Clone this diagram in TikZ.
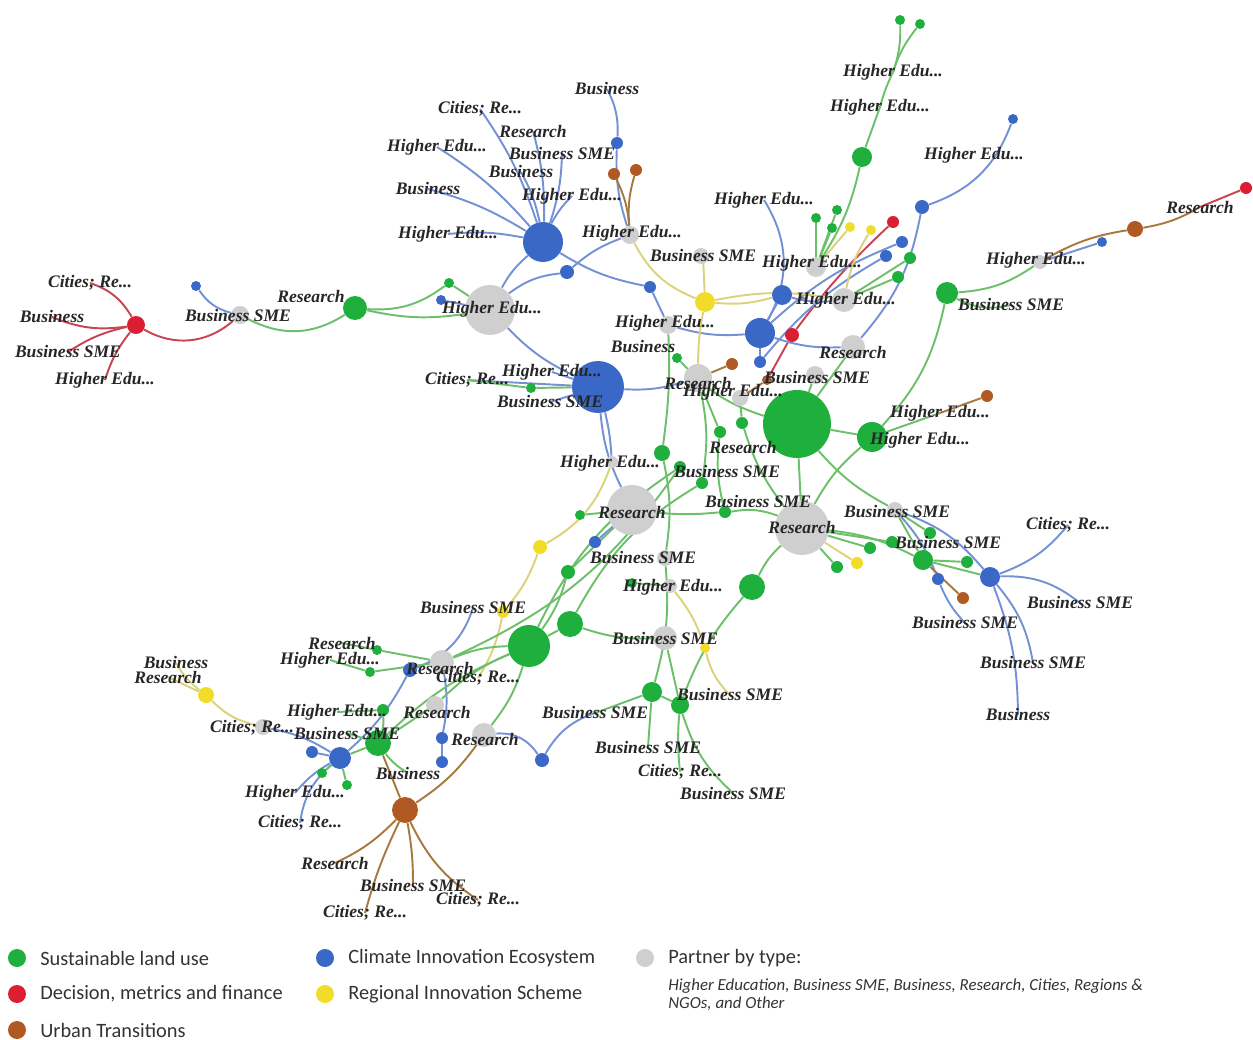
\documentclass[tikz,border=0pt]{standalone}
\usepackage{fontspec}
\setmainfont{Liberation Serif}
\newfontfamily\legfont{Carlito}
\usepackage{xcolor}
\usetikzlibrary{backgrounds}

\definecolor{cgreen}{HTML}{1EAF3C}
\definecolor{cblue}{HTML}{3A68C6}
\definecolor{cgrey}{HTML}{CFCFCF}
\definecolor{cred}{HTML}{DC1E32}
\definecolor{cyel}{HTML}{F2DC2A}
\definecolor{cbrown}{HTML}{B05A23}
\definecolor{egreen}{HTML}{6CC06A}
\definecolor{eblue}{HTML}{7591D6}
\definecolor{ered}{HTML}{C84450}
\definecolor{eyel}{HTML}{DCD27A}
\definecolor{ebrown}{HTML}{A8793F}

\begin{document}
\begin{tikzpicture}[
  x=0.02cm, y=-0.02cm,
  dot/.style 2 args={circle, fill=#1, inner sep=0pt, minimum size=#2*0.04cm},
  lbl/.style={font=\bfseries\itshape\fontsize{10}{11}\selectfont, text=black!85, inner sep=0pt},
  leg/.style={font=\legfont\fontsize{11.6}{13}\selectfont, text=black!80, anchor=west, inner sep=0pt},
  eg/.style={draw=egreen, line width=1.1pt},
  eb/.style={draw=eblue, line width=1.1pt},
  er/.style={draw=ered, line width=1.1pt},
  ey/.style={draw=eyel, line width=1.1pt},
  en/.style={draw=ebrown, line width=1.1pt},
]
\useasboundingbox (0,0) rectangle (1253,1040);

% hubs and partners
\node[dot={cred}{9}] (red1) at (136,325) {};
\node[dot={cblue}{5}] (blue1) at (196,286) {};
\node[dot={cgrey}{9}] (pg1) at (240,315) {};
\node[dot={cgreen}{12}] (green1) at (355,308) {};
\node[dot={cgreen}{5}] (green2) at (449,283) {};
\node[dot={cblue}{5}] (blue2) at (441,300) {};
\node[dot={cgrey}{25}] (pg2) at (490,310) {};
\node[dot={cblue}{20}] (blue3) at (543,242) {};
\node[dot={cblue}{7}] (blue4) at (567,272) {};
\node[dot={cblue}{6}] (blue5) at (617,143) {};
\node[dot={cbrown}{6}] (brown1) at (614,174) {};
\node[dot={cbrown}{6}] (brown2) at (636,170) {};
\node[dot={cgrey}{9}] (pg3) at (630,235) {};
\node[dot={cblue}{6}] (blue6) at (650,287) {};
\node[dot={cyel}{10}] (yel1) at (705,302) {};
\node[dot={cgrey}{8}] (pg5) at (701,256) {};
\node[dot={cgrey}{9}] (pg4) at (668,325) {};
\node[dot={cblue}{10}] (blue7) at (782,295) {};
\node[dot={cblue}{15}] (blue8) at (760,333) {};
\node[dot={cgrey}{10}] (pg6) at (816,267) {};
\node[dot={cgrey}{12}] (pg7) at (844,300) {};
\node[dot={cgreen}{5}] (green3) at (816,218) {};
\node[dot={cgreen}{5}] (green4) at (837,210) {};
\node[dot={cgreen}{5}] (green5) at (832,228) {};
\node[dot={cyel}{5}] (yel2) at (850,227) {};
\node[dot={cyel}{5}] (yel3) at (871,230) {};
\node[dot={cred}{6}] (red2) at (893,222) {};
\node[dot={cblue}{6}] (blue9) at (902,242) {};
\node[dot={cblue}{6}] (blue10) at (886,256) {};
\node[dot={cgreen}{6}] (green6) at (910,258) {};
\node[dot={cgreen}{6}] (green7) at (898,277) {};
\node[dot={cgreen}{10}] (green8) at (862,157) {};
\node[dot={cgreen}{5}] (green9) at (900,20) {};
\node[dot={cgreen}{5}] (green10) at (920,24) {};
\node[dot={cblue}{7}] (blue11) at (922,207) {};
\node[dot={cblue}{5}] (blue12) at (1013,119) {};
\node[dot={cgreen}{11}] (green11) at (947,293) {};
\node[dot={cgrey}{7}] (pg8) at (1040,262) {};
\node[dot={cblue}{5}] (blue13) at (1102,242) {};
\node[dot={cbrown}{8}] (brown3) at (1135,229) {};
\node[dot={cred}{6}] (red3) at (1246,188) {};
\node[dot={cred}{7}] (red4) at (792,335) {};
\node[dot={cblue}{26}] (blue14) at (598,387) {};
\node[dot={cgreen}{5}] (green12) at (531,388) {};
\node[dot={cgreen}{5}] (green13) at (677,358) {};
\node[dot={cbrown}{6}] (brown4) at (732,364) {};
\node[dot={cblue}{6}] (blue15) at (760,362) {};
\node[dot={cgrey}{14}] (pg9) at (698,378) {};
\node[dot={cgrey}{8}] (pg10) at (740,398) {};
\node[dot={cbrown}{5}] (brown5) at (767,380) {};
\node[dot={cgrey}{9}] (pg11) at (815,375) {};
\node[dot={cgrey}{12}] (pg12) at (853,347) {};
\node[dot={cgreen}{34}] (green14) at (797,424) {};
\node[dot={cgreen}{15}] (green15) at (872,437) {};
\node[dot={cbrown}{6}] (brown6) at (987,396) {};
\node[dot={cgreen}{6}] (green16) at (720,432) {};
\node[dot={cgreen}{6}] (green17) at (742,423) {};
\node[dot={cgreen}{8}] (green18) at (662,453) {};
\node[dot={cgrey}{6}] (pg13) at (612,462) {};
\node[dot={cgreen}{6}] (green19) at (702,483) {};
\node[dot={cgreen}{6}] (green20) at (680,467) {};
\node[dot={cgrey}{25}] (pg14) at (632,510) {};
\node[dot={cgreen}{5}] (green21) at (580,515) {};
\node[dot={cblue}{6}] (blue16) at (595,542) {};
\node[dot={cgreen}{6}] (green22) at (725,512) {};
\node[dot={cgrey}{27}] (pg15) at (802,528) {};
\node[dot={cgrey}{8}] (pg16) at (895,510) {};
\node[dot={cgreen}{6}] (green23) at (930,533) {};
\node[dot={cgreen}{6}] (green24) at (892,542) {};
\node[dot={cgreen}{6}] (green25) at (870,548) {};
\node[dot={cgreen}{6}] (green26) at (837,567) {};
\node[dot={cyel}{6}] (yel8) at (857,563) {};
\node[dot={cgreen}{10}] (green27) at (923,560) {};
\node[dot={cgreen}{6}] (green28) at (967,562) {};
\node[dot={cblue}{6}] (blue17) at (938,579) {};
\node[dot={cbrown}{6}] (brown7) at (963,598) {};
\node[dot={cblue}{10}] (blue18) at (990,577) {};
\node[dot={cyel}{7}] (yel4) at (540,547) {};
\node[dot={cgreen}{7}] (green29) at (568,572) {};
\node[dot={cgrey}{8}] (pg17) at (665,558) {};
\node[dot={cgreen}{5}] (green30) at (632,583) {};
\node[dot={cgrey}{7}] (pg23) at (670,586) {};
\node[dot={cgreen}{13}] (green31) at (752,587) {};
\node[dot={cyel}{6}] (yel5) at (503,612) {};
\node[dot={cgreen}{21}] (green32) at (529,646) {};
\node[dot={cgreen}{13}] (green33) at (570,624) {};
\node[dot={cgrey}{12}] (pg18) at (665,638) {};
\node[dot={cyel}{5}] (yel6) at (705,648) {};
\node[dot={cgreen}{10}] (green34) at (652,692) {};
\node[dot={cgreen}{9}] (green35) at (680,705) {};
\node[dot={cblue}{7}] (blue19) at (542,760) {};
\node[dot={cgrey}{12}] (pg19) at (484,735) {};
\node[dot={cblue}{6}] (blue20) at (442,738) {};
\node[dot={cblue}{6}] (blue21) at (442,762) {};
\node[dot={cgreen}{5}] (green36) at (377,650) {};
\node[dot={cgreen}{5}] (green37) at (370,672) {};
\node[dot={cblue}{7}] (blue22) at (410,670) {};
\node[dot={cgrey}{12}] (pg20) at (442,662) {};
\node[dot={cyel}{8}] (yel7) at (206,695) {};
\node[dot={cgrey}{8}] (pg21) at (263,727) {};
\node[dot={cblue}{11}] (blue23) at (340,758) {};
\node[dot={cblue}{6}] (blue24) at (312,752) {};
\node[dot={cgreen}{13}] (green38) at (378,743) {};
\node[dot={cgreen}{6}] (green39) at (383,710) {};
\node[dot={cgrey}{9}] (pg22) at (435,705) {};
\node[dot={cgreen}{5}] (green40) at (322,773) {};
\node[dot={cgreen}{5}] (green41) at (347,785) {};
\node[dot={cbrown}{13}] (brown8) at (405,810) {};

% partner labels
\node[lbl] (cit1) at (90,283) {Cities; Re...};
\node[lbl] (bus1) at (52,317) {Business};
\node[lbl] (sme1) at (68,352) {Business SME};
\node[lbl] (he1) at (105,380) {Higher Edu...};
\node[lbl] (sme2) at (238,316) {Business SME};
\node[lbl] (res1) at (311,296) {Research};
\node[lbl] (he2) at (492,309) {Higher Edu...};
\node[lbl] (cit2) at (480,109) {Cities; Re...};
\node[lbl] (res2) at (533,131) {Research};
\node[lbl] (he3) at (437,147) {Higher Edu...};
\node[lbl] (sme3) at (562,154) {Business SME};
\node[lbl] (bus2) at (521,172) {Business};
\node[lbl] (bus3) at (428,189) {Business};
\node[lbl] (he4) at (572,196) {Higher Edu...};
\node[lbl] (he5) at (448,234) {Higher Edu...};
\node[lbl] (bus4) at (607,89) {Business};
\node[lbl] (he6) at (632,233) {Higher Edu...};
\node[lbl] (sme4) at (703,256) {Business SME};
\node[lbl] (he7) at (665,323) {Higher Edu...};
\node[lbl] (bus5) at (643,347) {Business};
\node[lbl] (he8) at (764,200) {Higher Edu...};
\node[lbl] (he9) at (812,263) {Higher Edu...};
\node[lbl] (he10) at (846,300) {Higher Edu...};
\node[lbl] (he11) at (893,72) {Higher Edu...};
\node[lbl] (he12) at (880,107) {Higher Edu...};
\node[lbl] (he13) at (974,155) {Higher Edu...};
\node[lbl] (sme5) at (1011,305) {Business SME};
\node[lbl] (he14) at (1036,260) {Higher Edu...};
\node[lbl] (res3) at (1200,207) {Research};
\node[lbl] (cit3) at (467,380) {Cities; Re...};
\node[lbl] (he15) at (552,372) {Higher Edu...};
\node[lbl] (sme6) at (550,402) {Business SME};
\node[lbl] (res4) at (853,352) {Research};
\node[lbl] (sme7) at (817,378) {Business SME};
\node[lbl] (res5) at (698,383) {Research};
\node[lbl] (he16) at (733,392) {Higher Edu...};
\node[lbl] (he17) at (940,413) {Higher Edu...};
\node[lbl] (he18) at (920,440) {Higher Edu...};
\node[lbl] (res6) at (743,447) {Research};
\node[lbl] (he19) at (610,463) {Higher Edu...};
\node[lbl] (sme8) at (727,472) {Business SME};
\node[lbl] (res7) at (632,512) {Research};
\node[lbl] (sme9) at (758,502) {Business SME};
\node[lbl] (res8) at (802,527) {Research};
\node[lbl] (sme10) at (897,512) {Business SME};
\node[lbl] (sme11) at (948,543) {Business SME};
\node[lbl] (cit4) at (1068,525) {Cities; Re...};
\node[lbl] (sme12) at (1080,603) {Business SME};
\node[lbl] (sme13) at (965,623) {Business SME};
\node[lbl] (sme14) at (1033,663) {Business SME};
\node[lbl] (bus6) at (1018,715) {Business};
\node[lbl] (sme15) at (643,558) {Business SME};
\node[lbl] (he20) at (673,587) {Higher Edu...};
\node[lbl] (sme16) at (473,608) {Business SME};
\node[lbl] (sme17) at (665,639) {Business SME};
\node[lbl] (sme18) at (730,695) {Business SME};
\node[lbl] (sme19) at (595,713) {Business SME};
\node[lbl] (sme20) at (648,747) {Business SME};
\node[lbl] (cit5) at (680,772) {Cities; Re...};
\node[lbl] (sme21) at (733,793) {Business SME};
\node[lbl] (res9) at (485,739) {Research};
\node[lbl] (res10) at (342,643) {Research};
\node[lbl] (he21) at (330,660) {Higher Edu...};
\node[lbl] (res11) at (440,668) {Research};
\node[lbl] (cit6) at (478,678) {Cities; Re...};
\node[lbl] (bus7) at (176,663) {Business};
\node[lbl] (res12) at (168,677) {Research};
\node[lbl] (cit7) at (252,728) {Cities; Re...};
\node[lbl] (he22) at (337,712) {Higher Edu...};
\node[lbl] (res13) at (437,712) {Research};
\node[lbl] (sme22) at (347,733) {Business SME};
\node[lbl] (bus8) at (408,773) {Business};
\node[lbl] (he23) at (295,793) {Higher Edu...};
\node[lbl] (cit8) at (300,823) {Cities; Re...};
\node[lbl] (res14) at (335,863) {Research};
\node[lbl] (sme23) at (413,885) {Business SME};
\node[lbl] (cit9) at (365,913) {Cities; Re...};
\node[lbl] (cit10) at (478,900) {Cities; Re...};

\begin{scope}[on background layer]
% red
\draw[er] (red1) to[bend right=20] (cit1.center);
\draw[er] (red1) to[bend left=15] (bus1.center);
\draw[er] (red1) to[bend right=10] (sme1.center);
\draw[er] (red1) to[bend right=10] (he1.center);
\draw[er] (red1) to[bend right=35] (pg1);
\draw[er] (red2) to[bend right=5] (red4);
\draw[er] (red4) -- (brown5);
\draw[er] (res3.center) -- (red3);
% blue
\draw[eb] (blue1) to[bend right=20] (pg1);
\draw[eb] (blue2) -- (pg2);
\foreach \t in {cit2,res2,he3,sme3,bus2,bus3,he5}
  \draw[eb] (blue3) to[bend right=8] (\t.center);
\draw[eb] (blue3) to[bend left=8] (he4.center);
\draw[eb] (blue3) to[bend right=10] (pg2);
\draw[eb] (pg2) to[bend left=15] (blue4);
\draw[eb] (blue4) to[bend left=10] (pg3);
\draw[eb] (blue3) to[bend right=10] (blue6);
\draw[eb] (blue6) -- (pg4);
\draw[eb] (bus4.center) to[bend left=15] (blue5);
\draw[eb] (blue5) to[bend right=10] (pg3);
\draw[eb] (he8.center) to[bend left=30] (blue8);
\draw[eb] (blue8) -- (blue7);
\draw[eb] (pg4) to[bend right=10] (blue8);
\draw[eb] (blue7) to[bend right=10] (pg7);
\draw[eb] (blue11) to[bend right=25] (blue12);
\draw[eb] (blue11) to[bend left=15] (pg12);
\draw[eb] (blue9) to[bend right=10] (blue8);
\draw[eb] (blue10) to[bend right=10] (blue15);
\draw[eb] (blue8) to[bend right=10] (pg12);
\draw[eb] (blue15) -- (blue8);
\draw[eb] (blue14) -- (cit3.center);
\draw[eb] (blue14) -- (he15.center);
\draw[eb] (blue14) -- (sme6.center);
\draw[eb] (pg2) to[bend right=10] (blue14);
\draw[eb] (blue14) to[bend right=10] (pg9);
\draw[eb] (blue14) to[bend left=5] (pg13);
\draw[eb] (blue14) to[bend right=10] (pg14);
\draw[eb] (blue16) -- (pg14);
\draw[eb] (pg8) -- (blue13);
\draw[eb] (blue18) to[bend right=15] (cit4.center);
\draw[eb] (blue18) to[bend left=20] (sme12.center);
\draw[eb] (blue18) to[bend left=15] (sme14.center);
\draw[eb] (blue18) to[bend left=10] (bus6.center);
\draw[eb] (pg16) to[bend left=15] (blue18);
\draw[eb] (pg16) to[bend left=10] (blue17);
\draw[eb] (blue17) to[bend right=10] (sme13.center);
\draw[eb] (sme16.center) to[bend left=25] (blue22);
\draw[eb] (blue22) to[bend left=10] (blue23);
\draw[eb] (blue23) -- (blue24);
\draw[eb] (pg21) to[bend left=10] (blue23);
\draw[eb] (blue23) to[bend right=10] (he23.center);
\draw[eb] (blue23) to[bend right=20] (cit8.center);
\draw[eb] (pg20) to[bend left=10] (blue20);
\draw[eb] (blue20) -- (blue21);
\draw[eb] (pg19) to[bend left=30] (blue19);
\draw[eb] (blue19) to[bend left=20] (sme19.center);
% yellow
\draw[ey] (pg3) to[bend right=20] (yel1);
\draw[ey] (sme4.center) -- (yel1);
\draw[ey] (yel1) to[bend right=10] (blue7);
\draw[ey] (yel1) to[bend left=10] (pg7);
\draw[ey] (yel1) to[bend right=5] (pg9);
\draw[ey] (yel2) -- (pg6);
\draw[ey] (yel3) to[bend right=10] (pg7);
\draw[ey] (pg13) to[bend left=20] (yel4);
\draw[ey] (yel4) to[bend left=10] (yel5);
\draw[ey] (yel5) to[bend left=10] (cit6.center);
\draw[ey] (pg15) -- (yel8);
\draw[ey] (pg23) to[bend left=10] (yel6);
\draw[ey] (yel6) to[bend right=15] (sme18.center);
\draw[ey] (yel7) to[bend left=10] (bus7.center);
\draw[ey] (yel7) -- (res12.center);
\draw[ey] (yel7) to[bend right=15] (pg21);
% brown
\draw[en] (brown1) to[bend left=10] (pg3);
\draw[en] (brown2) to[bend right=10] (pg3);
\draw[en] (pg8) to[bend left=10] (brown3);
\draw[en] (brown3) to[bend right=10] (res3.center);
\draw[en] (he17.center) -- (brown6);
\draw[en] (brown4) -- (pg9);
\draw[en] (brown5) -- (pg10);
\draw[en] (brown7) -- (green27);
\draw[en] (brown8) to[bend left=10] (res14.center);
\draw[en] (brown8) to[bend left=5] (sme23.center);
\draw[en] (brown8) to[bend right=5] (cit9.center);
\draw[en] (brown8) to[bend right=15] (cit10.center);
\draw[en] (brown8) -- (green38);
\draw[en] (brown8) to[bend right=10] (pg19);
% green
\draw[eg] (pg1) to[bend right=30] (green1);
\draw[eg] (green1) to[bend right=20] (green2);
\draw[eg] (green2) -- (pg2);
\draw[eg] (green1) to[bend right=10] (pg2);
\draw[eg] (pg6) -- (green3);
\draw[eg] (pg6) -- (green4);
\draw[eg] (pg6) -- (green5);
\draw[eg] (pg6) to[bend right=10] (green8);
\draw[eg] (green8) -- (he12.center);
\draw[eg] (he12.center) to[bend left=5] (he11.center);
\draw[eg] (he11.center) to[bend right=10] (green9);
\draw[eg] (he11.center) to[bend left=10] (green10);
\draw[eg] (pg7) -- (green6);
\draw[eg] (pg7) -- (green7);
\draw[eg] (green11) to[bend right=15] (pg8);
\draw[eg] (green11) to[bend right=20] (sme5.center);
\draw[eg] (green11) to[bend left=15] (green15);
\draw[eg] (green14) -- (green15);
\draw[eg] (green15) -- (he17.center);
\draw[eg] (green15) to[bend right=10] (pg15);
\draw[eg] (green14) to[bend right=10] (pg16);
\draw[eg] (green14) -- (pg15);
\draw[eg] (pg11) -- (green14);
\draw[eg] (pg12) -- (green14);
\draw[eg] (green13) to[bend right=15] (green14);
\draw[eg] (pg10) -- (green17);
\draw[eg] (pg9) -- (green16);
\draw[eg] (green16) to[bend right=10] (green22);
\draw[eg] (green17) to[bend right=10] (pg15);
\draw[eg] (pg4) to[bend left=5] (green18);
\draw[eg] (green18) to[bend left=10] (pg17);
\draw[eg] (pg9) to[bend left=10] (green19);
\draw[eg] (green19) to[bend right=15] (green33);
\draw[eg] (green20) to[bend right=15] (green32);
\draw[eg] (pg14) -- (green21);
\draw[eg] (pg14) to[bend right=5] (green22);
\draw[eg] (green22) to[bend left=15] (pg15);
\draw[eg] (pg15) -- (green25);
\draw[eg] (pg15) -- (green24);
\draw[eg] (pg15) -- (green26);
\draw[eg] (pg15) to[bend left=10] (green27);
\draw[eg] (pg16) -- (green23);
\draw[eg] (pg16) -- (green27);
\draw[eg] (green27) -- (blue18);
\draw[eg] (green27) -- (green28);
\draw[eg] (pg15) to[bend right=10] (green31);
\draw[eg] (green31) to[bend right=10] (green35);
\draw[eg] (green32) -- (green33);
\draw[eg] (green33) to[bend right=10] (pg18);
\draw[eg] (green32) to[bend right=10] (green29);
\draw[eg] (green29) -- (pg14);
\draw[eg] (green30) -- (pg23);
\draw[eg] (pg17) to[bend left=10] (green34);
\draw[eg] (green34) -- (green35);
\draw[eg] (green34) -- (sme20.center);
\draw[eg] (green34) -- (sme19.center);
\draw[eg] (green35) to[bend right=5] (cit5.center);
\draw[eg] (green35) to[bend right=15] (sme21.center);
\draw[eg] (pg18) -- (green35);
\draw[eg] (green32) to[bend left=10] (pg19);
\draw[eg] (green32) to[bend right=10] (pg20);
\draw[eg] (green32) to[bend right=10] (green38);
\draw[eg] (pg20) -- (green36);
\draw[eg] (green36) -- (res10.center);
\draw[eg] (pg20) -- (green37);
\draw[eg] (green37) -- (he21.center);
\draw[eg] (green38) to[bend right=10] (green39);
\draw[eg] (green39) -- (he22.center);
\draw[eg] (green38) -- (sme22.center);
\draw[eg] (green38) to[bend right=10] (bus8.center);
\draw[eg] (green38) -- (blue23);
\draw[eg] (blue23) -- (green40);
\draw[eg] (blue23) -- (green41);
\draw[eg] (pg22) -- (green38);
\draw[eg] (pg22) to[bend left=10] (green32);
\draw[eg] (green20) to[bend left=15] (pg20);
\draw[eg] (green12) -- (blue14);
\draw[eg] (green12) -- (cit3.center);
\end{scope}

% legend
\node[dot={cgreen}{9}] (kgreen) at (17,958) {};
\node[leg] (tgreen) at (40,958) {Sustainable land use};
\node[dot={cred}{9}] (kred) at (17,994) {};
\node[leg] (tred) at (40,994) {Decision, metrics and finance};
\node[dot={cbrown}{9}] (kbrown) at (17,1030) {};
\node[leg] (tbrown) at (40,1030) {Urban Transitions};
\node[dot={cblue}{9}] (kblue) at (325,958) {};
\node[leg] (tblue) at (348,958) {Climate Innovation Ecosystem};
\node[dot={cyel}{9}] (kyel) at (325,994) {};
\node[leg] (tyel) at (348,994) {Regional Innovation Scheme};
\node[dot={cgrey}{9}] (kgrey) at (645,958) {};
\node[leg] (tgrey) at (668,958) {Partner by type:};
\node[leg, anchor=north west, align=left, font=\legfont\itshape\fontsize{9.6}{10.3}\selectfont] (tkinds) at (668,978)
  {Higher Education, Business SME, Business, Research, Cities, Regions \&\\NGOs, and Other};
\end{tikzpicture}
\end{document}
